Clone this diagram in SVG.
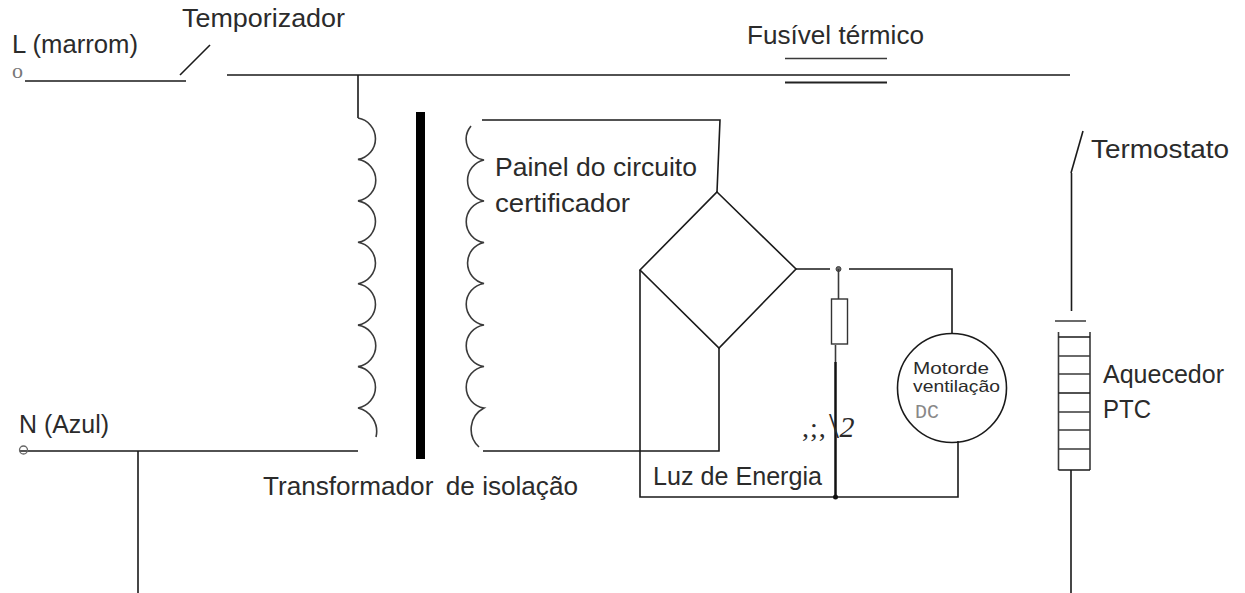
<svg xmlns="http://www.w3.org/2000/svg" width="1245" height="593" viewBox="0 0 1245 593">
<style>
text{font-family:"Liberation Sans",Arial,sans-serif;font-size:25px;fill:#2b2b2b}
.w{fill:none;stroke:#1a1a1a;stroke-width:1.6}
.g{fill:none;stroke:#3a3a3a;stroke-width:1.6}
.s{font-family:"Liberation Serif",serif;font-size:22px;fill:#777}
.m{font-size:16.500px}
.q{font-family:"Liberation Serif",serif}
</style>
<rect width="1245" height="593" fill="#fff"/>
<g id="connectors">
<path class="w" d="M25 81H186M227 75H1070M358 75V118M20 451H358M138 451V593M483 451H719V348M482 120H720L717 192M640 270V497H958V441M796 269H830M849 269H952V334M1071.500 173V311M1071 470V593"/>
<path class="w" d="M1083 131L1071 173"/>
<path d="M835.500 362V497" fill="none" stroke="#111" stroke-width="2.500"/>
<path class="g" d="M835.500 345V362"/>
<circle cx="835.500" cy="497" r="2.500" fill="#111"/>
</g>
<g id="terminal-l"><text class="s" x="12" y="78">o</text><text x="12" y="53" textLength="126" lengthAdjust="spacingAndGlyphs">L (marrom)</text></g>
<g id="timer"><path class="w" d="M180 75L210 45"/><text x="182" y="27" textLength="163" lengthAdjust="spacingAndGlyphs">Temporizador</text></g>
<g id="terminal-n"><circle cx="23.500" cy="450" r="4" fill="none" stroke="#666" stroke-width="1.300"/><text x="19" y="433" textLength="90" lengthAdjust="spacingAndGlyphs">N (Azul)</text></g>
<g id="fuse"><path class="g" d="M785 58.500H887"/><path d="M785 82.500H887" fill="none" stroke="#222" stroke-width="2"/><text x="747" y="44" textLength="177" lengthAdjust="spacingAndGlyphs">Fusível térmico</text></g>
<g id="transformer">
<path class="g" d="M358 118A21 21 0 0 1 358 159.400A21 21 0 0 1 358 200.900A21 21 0 0 1 358 242.300A21 21 0 0 1 358 283.700A21 21 0 0 1 358 325.100A21 21 0 0 1 358 366.600A21 21 0 0 1 358 408A24 24 0 0 1 376 437"/>
<path class="g" d="M471 126A21 21 0 0 0 484 160A21 21 0 0 0 484 201A21 21 0 0 0 484 242.500A21 21 0 0 0 484 283.500A21 21 0 0 0 484 325A21 21 0 0 0 484 366.500A21 21 0 0 0 484 408A24 24 0 0 0 479 447"/>
<rect x="416" y="112" width="9" height="347" fill="#000"/>
<text x="263" y="495" textLength="315" lengthAdjust="spacingAndGlyphs">Transformador <tspan dx="5">de isolação</tspan></text>
</g>
<g id="circuit-board"><text x="495" y="176" textLength="202" lengthAdjust="spacingAndGlyphs">Painel do circuito</text><text x="495" y="212" textLength="135" lengthAdjust="spacingAndGlyphs">certificador</text></g>
<g id="bridge"><path class="w" d="M717 192L796 269L719 348L640 270Z"/></g>
<g id="power-light">
<circle cx="838.500" cy="269" r="2.500" fill="#666" stroke="#444"/>
<path class="g" d="M838.500 269V299"/>
<rect x="831.500" y="299" width="16" height="45" fill="#fff" stroke="#333" stroke-width="1.400"/>
<text class="q" x="802" y="437" style="font-size:28px;letter-spacing:1px">,;,<tspan x="829" y="438" style="font-size:36px;letter-spacing:0">\</tspan><tspan x="839.500" y="437" style="font-size:30px;letter-spacing:0;font-style:italic">2</tspan></text>
<text x="653" y="485" textLength="169" lengthAdjust="spacingAndGlyphs">Luz de Energia</text>
</g>
<g id="fan-motor">
<circle cx="952" cy="388" r="54.500" class="w"/>
<text class="m" x="913" y="374" textLength="76" lengthAdjust="spacingAndGlyphs">Motorde</text>
<text class="m" x="913" y="392" textLength="87" lengthAdjust="spacingAndGlyphs">ventilação</text>
<text x="915" y="418" style="font-family:'Liberation Mono',monospace;font-size:20px;fill:#888">DC</text>
</g>
<g id="thermostat"><text x="1091" y="158" textLength="138" lengthAdjust="spacingAndGlyphs">Termostato</text></g>
<g id="ptc-heater">
<path class="g" d="M1055 321H1086M1058.500 332V470M1090 332V470"/>
<path class="w" d="M1058.500 337H1090M1058.500 393H1090M1058.500 470H1090"/>
<path class="g" d="M1058.500 356H1090M1058.500 374H1090M1058.500 412H1090M1058.500 430H1090M1058.500 449H1090"/>
<text x="1103" y="383" textLength="121" lengthAdjust="spacingAndGlyphs">Aquecedor</text><text x="1103" y="418" textLength="48" lengthAdjust="spacingAndGlyphs">PTC</text>
</g>
</svg>
